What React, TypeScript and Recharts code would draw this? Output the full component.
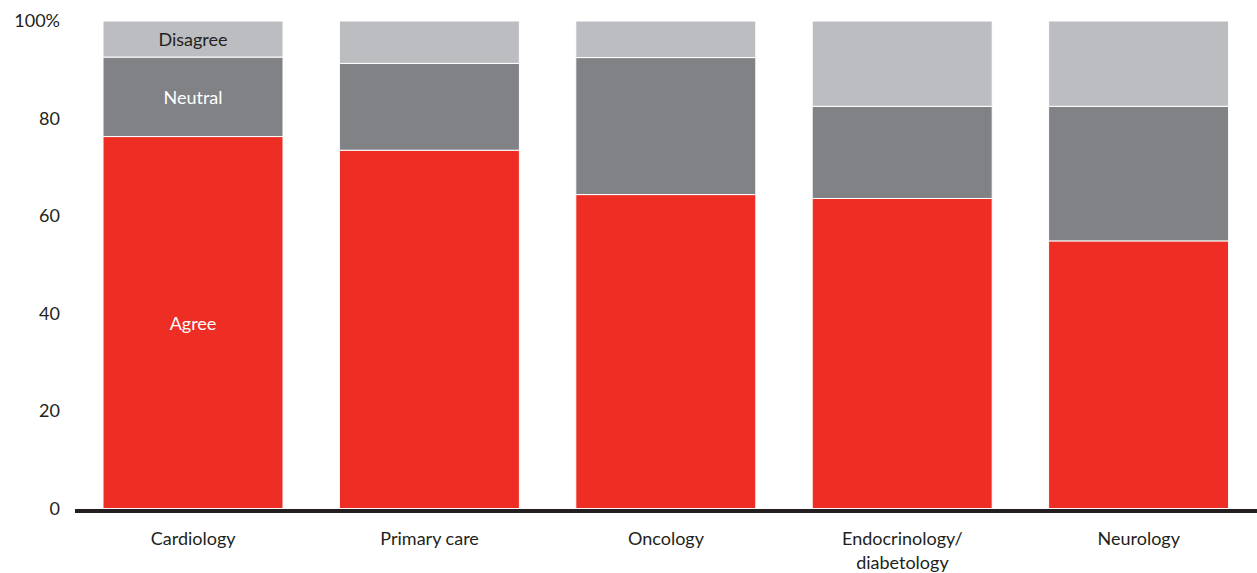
import React from "react";
import { BarChart, Bar, XAxis, YAxis, LabelList } from "recharts";

const categories = ["Cardiology", "Primary care", "Oncology", "Endocrinology/\ndiabetology", "Neurology"];
const agree = [76.3, 73.5, 64.4, 63.6, 54.9];
const neutral = [16.3, 17.8, 28.1, 18.9, 27.6];
const disagree = [7.4, 8.7, 7.5, 17.5, 17.5];
const yTicks = [0, 20, 40, 60, 80, 100];

const data = categories.map((name, i) => ({
  name,
  agree: agree[i],
  neutral: neutral[i],
  disagree: disagree[i],
}));

const FONT = "Lato, 'Open Sans', sans-serif";
const TEXT = "#231f20";

function XTick(props: any) {
  const { x, y, payload } = props;
  const lines = String(payload.value).split("\n");
  return (
    <text x={x} y={y} textAnchor="middle" fill={TEXT} fontSize={18} fontFamily={FONT}>
      {lines.map((l, i) => (
        <tspan key={i} x={x} dy={i === 0 ? 26 : 24}>
          {l}
        </tspan>
      ))}
    </text>
  );
}

// segment names are only written on the first bar
function segLabel(text: string, color: string) {
  return (props: any) => {
    const { x, y, width, height, index } = props;
    if (index !== 0) return null;
    return (
      <text
        x={x + width / 2}
        y={y + height / 2}
        textAnchor="middle"
        dominantBaseline="central"
        fill={color}
        fontSize={18}
        fontFamily={FONT}
      >
        {text}
      </text>
    );
  };
}

export default function App() {
  return (
    <div style={{ position: "fixed", left: 0, top: 0, background: "#fff" }}>
      <BarChart
        width={1257}
        height={573}
        data={data}
        margin={{ top: 21, right: 0, left: 0, bottom: 0 }}
        barSize={180}
      >
        <YAxis
          type="number"
          domain={[-0.5, 100]}
          ticks={yTicks}
          width={75}
          axisLine={false}
          tickLine={false}
          tickSize={0}
          tickMargin={15}
          tickFormatter={(v: number) => (v === 100 ? "100%" : String(v))}
          tick={{ fill: TEXT, fontSize: 18, fontFamily: FONT }}
        />
        <XAxis
          dataKey="name"
          height={62}
          tickLine={false}
          axisLine={{ stroke: TEXT, strokeWidth: 4 }}
          tick={<XTick />}
          interval={0}
        />
        <Bar dataKey="agree" stackId="a" fill="#ee2e24" stroke="#fff" strokeWidth={1} isAnimationActive={false}>
          <LabelList dataKey="agree" content={segLabel("Agree", "#fff")} />
        </Bar>
        <Bar dataKey="neutral" stackId="a" fill="#818286" stroke="#fff" strokeWidth={1} isAnimationActive={false}>
          <LabelList dataKey="neutral" content={segLabel("Neutral", "#fff")} />
        </Bar>
        <Bar dataKey="disagree" stackId="a" fill="#bcbdc0" stroke="#fff" strokeWidth={1} isAnimationActive={false}>
          <LabelList dataKey="disagree" content={segLabel("Disagree", TEXT)} />
        </Bar>
      </BarChart>
    </div>
  );
}
